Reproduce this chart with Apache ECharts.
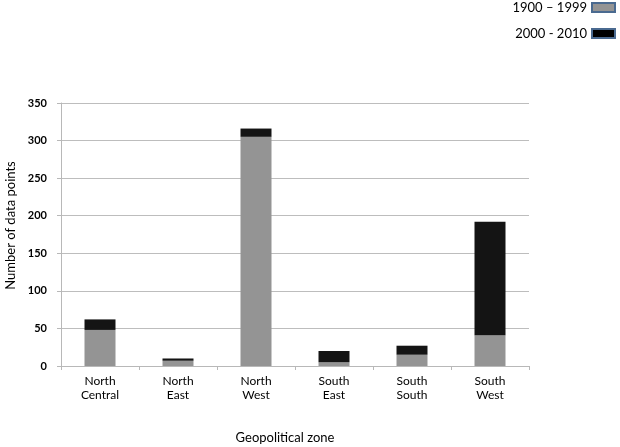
<!DOCTYPE html>
<html><head><meta charset="utf-8">
<script src="https://cdn.jsdelivr.net/npm/echarts@6/dist/echarts.min.js"></script>
<style>html,body{margin:0;padding:0;background:#fff}#c{width:620px;height:447px}</style>
</head><body><div id="c"></div>
<script>
const categories = ["North\nCentral","North\nEast","North\nWest","South\nEast","South\nSouth","South\nWest"];
const seriesNames = ["1900 – 1999","2000 - 2010"];
const early = [48, 7, 305, 5, 15, 41];
const late = [14, 3, 11, 15, 12, 151];
const yTicks = [0, 50, 100, 150, 200, 250, 300, 350];

const font = "Lato, 'Open Sans', 'Liberation Sans', sans-serif";
const chart = echarts.init(document.getElementById('c'), null, {renderer:'canvas'});
chart.setOption({
  animation:false,
  textStyle:{fontFamily:font},
  legend:{
    orient:'vertical', right:4, top:1, align:'right', icon:'rect', padding:0,
    itemWidth:23, itemHeight:9, itemGap:13,
    textStyle:{fontSize:13, color:'#000', fontFamily:font},
    data:[
      {name:seriesNames[0], itemStyle:{color:'#949494', borderColor:'#4a6a90', borderWidth:2}},
      {name:seriesNames[1], itemStyle:{color:'#000000', borderColor:'#4a6a90', borderWidth:2}}
    ]
  },
  grid:{left:61, right:91, top:103, bottom:81, outerBoundsMode:'none', containLabel:false},
  xAxis:{
    type:'category', data:categories,
    axisLine:{lineStyle:{color:'#b8b8b8'}},
    axisTick:{show:true, length:4, lineStyle:{color:'#b8b8b8'}},
    axisLabel:{color:'#000', fontSize:12, lineHeight:14, margin:8, fontFamily:font},
    name:'Geopolitical zone', nameLocation:'middle', nameGap:65,
    nameTextStyle:{fontSize:13, color:'#000', fontFamily:font, padding:[0,20,0,0]}
  },
  yAxis:{
    type:'value', min:yTicks[0], max:yTicks[yTicks.length-1], interval:50,
    axisLine:{show:true, lineStyle:{color:'#b8b8b8'}},
    axisTick:{show:true, length:4, lineStyle:{color:'#b8b8b8'}},
    splitLine:{lineStyle:{color:'#bdbdbd'}},
    axisLabel:{color:'#000', fontSize:11, fontWeight:'bold', margin:14, fontFamily:font},
    name:'Number of data points', nameLocation:'middle', nameGap:43,
    nameTextStyle:{fontSize:13, color:'#000', fontFamily:font, padding:[0,0,0,18]}
  },
  series:[
    {name:seriesNames[0], type:'bar', stack:'s', data:early, barWidth:31,
     itemStyle:{color:'#949494'}},
    {name:seriesNames[1], type:'bar', stack:'s', data:late, barWidth:31,
     itemStyle:{color:'#141414'}}
  ]
});
</script></body></html>
